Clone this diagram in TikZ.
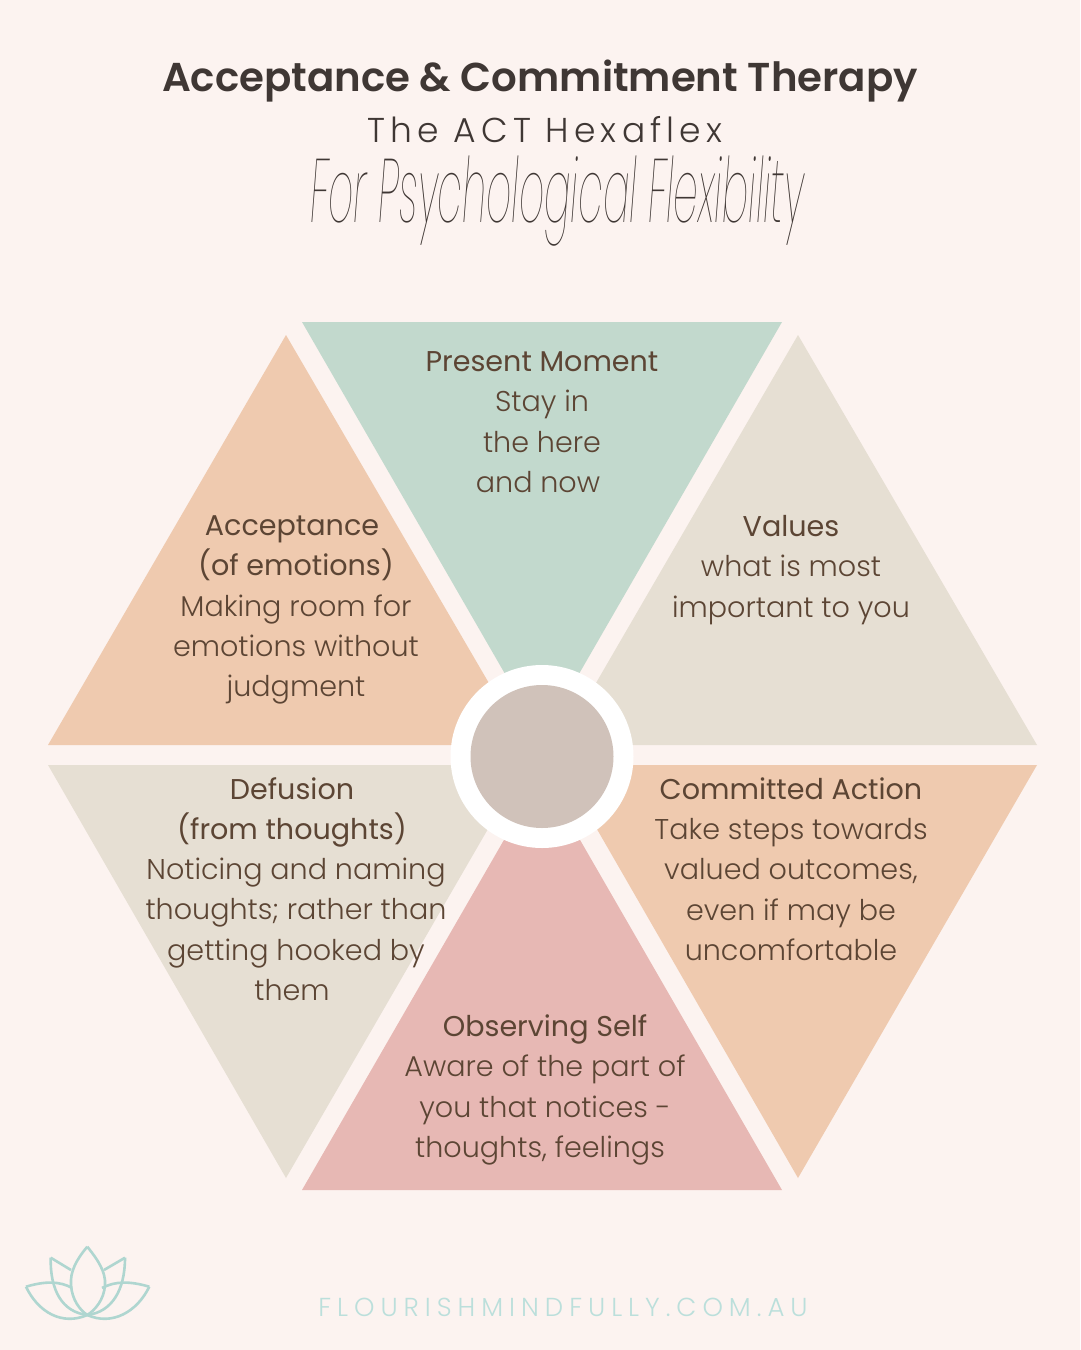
\documentclass[tikz,border=0pt]{standalone}
\usepackage{fontspec}
\setmainfont{Poppins Light}[BoldFont={Poppins}]
\newfontfamily\titlefont{Poppins SemiBold}
\newfontfamily\subfont{Poppins Light}[LetterSpace=15]
\newfontfamily\webfont{Poppins Light}[LetterSpace=23]
\newfontfamily\handfont{Poppins Thin Italic}
\usetikzlibrary{positioning}
\definecolor{cpage}{HTML}{FCF3F0}
\definecolor{cmint}{HTML}{C2D9CD}
\definecolor{cbeige}{HTML}{E6DFD3}
\definecolor{cpeach}{HTML}{EFCAAF}
\definecolor{cpink}{HTML}{E7B8B4}
\definecolor{ccore}{HTML}{D0C2BA}
\definecolor{ctext}{HTML}{5C4534}
\definecolor{cdark}{HTML}{3F3734}
\definecolor{cweb}{HTML}{BBDFDB}
\definecolor{clotus}{HTML}{AFD6D0}
\tikzset{
  every picture/.style={x=1pt, y=-1pt},
  petal/.style={fill=#1, draw=none},
  lbl/.style={text=ctext, align=center, inner sep=0pt, font=\fontsize{28.6}{40.3}\selectfont},
  title/.style={text=cdark, inner sep=0pt},
  lotus/.style={draw=clotus, line width=2.6pt, line join=round},
}
\begin{document}
\begin{tikzpicture}
  \fill[cpage] (0,0) rectangle (1080,1350);
  \useasboundingbox (0,0) rectangle (1080,1350);
  % headings
  \node[title, font=\titlefont\fontsize{40.3}{44}\selectfont] (head) at (540,81) {Acceptance \& Commitment Therapy};
  \node[title, font=\subfont\fontsize{34.5}{40}\selectfont] (sub) at (545,130) {The ACT Hexaflex};
  \node[title, font=\handfont] (hand) at (557,201) {\scalebox{0.98}[2.25]{\fontsize{40}{44}\selectfont For Psychological Flexibility}};
  % hexagon
  \fill[petal=cmint] (302,322) coordinate (pm1) -- (782,322) coordinate (pm2) -- (542,738) coordinate (pm3) -- cycle;
  \fill[petal=cbeige] (798,335) coordinate (va1) -- (1037,745) coordinate (va2) -- (560,745) coordinate (va3) -- cycle;
  \fill[petal=cpeach] (1037,765) coordinate (ca1) -- (798,1178) coordinate (ca2) -- (560,765) coordinate (ca3) -- cycle;
  \fill[petal=cpink] (782,1190) coordinate (os1) -- (302,1190) coordinate (os2) -- (542,774) coordinate (os3) -- cycle;
  \fill[petal=cbeige] (286,1178) coordinate (de1) -- (48,765) coordinate (de2) -- (525,765) coordinate (de3) -- cycle;
  \fill[petal=cpeach] (48,745) coordinate (ac1) -- (286,335) coordinate (ac2) -- (525,745) coordinate (ac3) -- cycle;
  \node[circle, fill=white, minimum size=183pt, inner sep=0pt] (ring) at (542,756.5) {};
  \node[circle, fill=ccore, minimum size=143pt, inner sep=0pt] (core) at (ring.center) {};
  % labels
  \node[lbl] (pmtxt) at (542,422) {\textbf{Present Moment}\\Stay in\\the here\\\hspace*{-8pt}and now};
  \node[lbl] (vatxt) at (791,570) {\textbf{Values}\\what is most\\important to you};
  \node[lbl] (catxt) at (791,869) {\textbf{Committed Action}\\Take steps towards\\valued outcomes,\\even if may be\\uncomfortable};
  \node[lbl] (ostxt) at (545,1090) {\textbf{Observing Self}\\Aware of the part of\\you that notices -\\\hspace*{-10pt}thoughts, feelings};
  \node[lbl] (detxt) at (296,889) {\hspace*{-8pt}\textbf{Defusion}\\\hspace*{-8pt}\textbf{(from thoughts)}\\Noticing and naming\\thoughts; rather than\\getting hooked by\\\hspace*{-8pt}them};
  \node[lbl] (actxt) at (296,610) {\hspace*{-8pt}\textbf{Acceptance}\\\textbf{(of emotions)}\\Making room for\\emotions without\\judgment};
  % logo
  \draw[lotus] (50.7,1257.7) .. controls (50,1290) and (62,1312) .. (87.3,1315) .. controls (112,1312) and (125,1290) .. (125,1257.7);
  \draw[lotus] (50.7,1257.7) -- (71,1270);
  \draw[lotus] (125,1257.7) -- (104,1270);
  \draw[lotus] (26,1286.7) .. controls (45,1281) and (60,1281) .. (72,1288);
  \draw[lotus] (149.3,1286.7) .. controls (130,1281) and (115,1281) .. (102,1288);
  \draw[lotus] (26,1286.7) .. controls (38,1312) and (62,1326) .. (87.3,1315) .. controls (112,1326) and (137,1312) .. (149.3,1286.7);
  \draw[lotus, fill=none] (87.3,1246.7) .. controls (76,1260) and (70,1272) .. (71,1285) .. controls (72,1300) and (80,1310) .. (87.3,1315) .. controls (95,1310) and (104,1300) .. (105,1285) .. controls (106,1272) and (98,1260) .. (87.3,1246.7);
  \node[title, text=cweb, font=\webfont\fontsize{26}{30}\selectfont] (web) at (563,1307) {FLOURISHMINDFULLY.COM.AU};
\end{tikzpicture}
\end{document}
